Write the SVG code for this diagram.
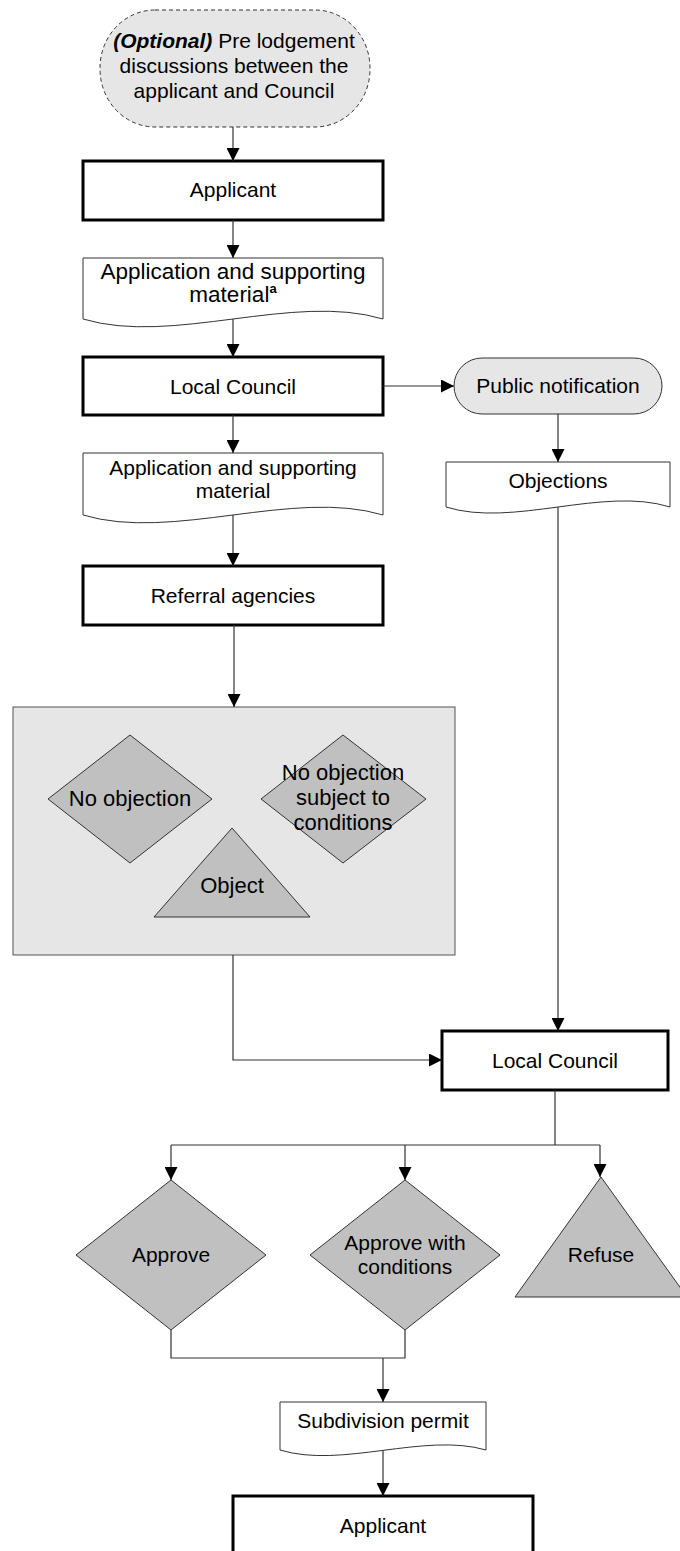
<svg xmlns="http://www.w3.org/2000/svg" width="680" height="1551" viewBox="0 0 680 1551">
<defs>
<marker id="arr" markerUnits="userSpaceOnUse" markerWidth="13" markerHeight="13" refX="13" refY="6.5" orient="auto">
<path d="M0,0 L13,6.5 L0,13 z" fill="#000"/>
</marker>
<style>
text{font-family:"Liberation Sans",Arial,sans-serif;font-size:21px;fill:#000;text-anchor:middle}
.big{font-size:22.5px}
.mid{font-size:22px}
.box{fill:#fff;stroke:#000;stroke-width:3}
.doc{fill:#fff;stroke:#333;stroke-width:1}
.dec{fill:#c0c0c0;stroke:#333;stroke-width:1}
.term{fill:#e6e6e6;stroke:#333;stroke-width:1}
.conn{fill:none;stroke:#333;stroke-width:1.2}
.arr{marker-end:url(#arr)}
</style>
</defs>
<rect width="680" height="1551" fill="#fff"/>

<g id="prelodgement">
<rect x="100" y="10" width="270" height="117" rx="55" ry="58" class="term" stroke-dasharray="4 3"/>
<text x="234" y="48"><tspan font-weight="bold" font-style="italic">(Optional)</tspan> Pre lodgement</text>
<text x="234" y="73">discussions between the</text>
<text x="234" y="98">applicant and Council</text>
</g>

<g id="applicant1">
<rect x="83" y="161" width="300" height="59" class="box"/>
<text x="233" y="197">Applicant</text>
</g>

<g id="doc1">
<path class="doc" d="M83,258 H383 V319 C293,292 173,346 83,319 Z"/>
<text class="big" x="233" y="279">Application and supporting</text>
<text class="big" x="233" y="302">material<tspan font-size="13" font-weight="bold" dy="-9">a</tspan></text>
</g>

<g id="council1">
<rect x="83" y="357" width="300" height="58" class="box"/>
<text x="233" y="394">Local Council</text>
</g>

<g id="publicnotification">
<rect x="454" y="358" width="208" height="56" rx="28" ry="28" class="term"/>
<text x="558" y="393">Public notification</text>
</g>

<g id="objections">
<path class="doc" d="M446,462 H670 V507 C603,486 513,528 446,507 Z"/>
<text x="558" y="488">Objections</text>
</g>

<g id="doc2">
<path class="doc" d="M83,453 H383 V515 C293,488 173,542 83,515 Z"/>
<text x="233" y="475">Application and supporting</text>
<text x="233" y="498">material</text>
</g>

<g id="referral">
<rect x="83" y="566" width="300" height="59" class="box"/>
<text x="233" y="603">Referral agencies</text>
</g>

<g id="responses">
<rect x="13" y="707" width="442" height="248" fill="#e6e6e6" stroke="#555" stroke-width="1"/>
<g id="noobjection">
<polygon points="48,799 130,735 212,799 130,863" class="dec"/>
<text class="mid" x="130" y="806">No objection</text>
</g>
<g id="noobjectionconditions">
<polygon points="261,799 343,735 426,799 343,863" class="dec"/>
<text class="mid" x="343" y="780">No objection</text>
<text class="mid" x="343" y="805">subject to</text>
<text class="mid" x="343" y="830">conditions</text>
</g>
<g id="object">
<polygon points="232,828 310,917 154,917" class="dec"/>
<text class="mid" x="232" y="893">Object</text>
</g>
</g>

<g id="council2">
<rect x="442" y="1031" width="226" height="59" class="box"/>
<text x="555" y="1068">Local Council</text>
</g>

<g id="approve">
<polygon points="76,1255 171,1180 266,1255 171,1330" class="dec"/>
<text x="171" y="1262">Approve</text>
</g>

<g id="approveconditions">
<polygon points="310,1255 405,1180 500,1255 405,1330" class="dec"/>
<text x="405" y="1250">Approve with</text>
<text x="405" y="1274">conditions</text>
</g>

<g id="refuse">
<polygon points="601,1177 687,1297 515,1297" class="dec"/>
<text x="601" y="1262">Refuse</text>
</g>

<g id="permit">
<path class="doc" d="M280,1402 H486 V1450 C424,1432 342,1469 280,1450 Z"/>
<text x="383" y="1428">Subdivision permit</text>
</g>

<g id="applicant2">
<rect x="233" y="1496" width="300" height="62" class="box"/>
<text x="383" y="1533">Applicant</text>
</g>

<g id="connectors">
<path class="conn arr" d="M233,127 V161"/>
<path class="conn arr" d="M233,220 V258"/>
<path class="conn arr" d="M233,319 V357"/>
<path class="conn arr" d="M383,386 H454"/>
<path class="conn arr" d="M233,415 V453"/>
<path class="conn arr" d="M558,414 V462"/>
<path class="conn arr" d="M233,515 V566"/>
<path class="conn arr" d="M558,507 V1031"/>
<path class="conn arr" d="M234,625 V707"/>
<path class="conn arr" d="M233,955 V1060 H442"/>
<path class="conn" d="M555,1090 V1145"/>
<path class="conn" d="M171,1145 H600"/>
<path class="conn arr" d="M171,1145 V1180"/>
<path class="conn arr" d="M405,1145 V1180"/>
<path class="conn arr" d="M600,1145 V1177"/>
<path class="conn" d="M171,1330 V1358 H405 V1330"/>
<path class="conn arr" d="M383,1358 V1402"/>
<path class="conn arr" d="M383,1451 V1496"/>
</g>
</svg>
